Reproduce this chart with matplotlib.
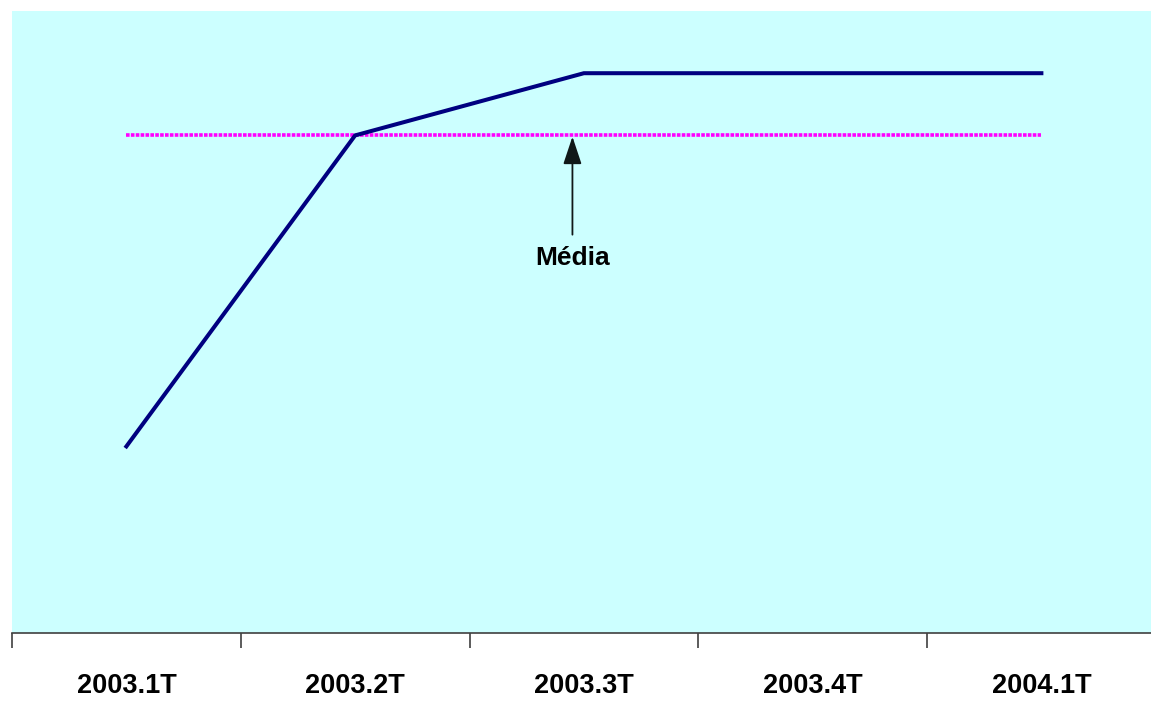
import matplotlib
matplotlib.use("Agg")
import matplotlib.pyplot as plt

quarters = ["2003.1T", "2003.2T", "2003.3T", "2003.4T", "2004.1T"]
values = [30, 80, 90, 90, 90]
media = 80

W, H = 1151, 702
fig = plt.figure(figsize=(W / 100, H / 100), dpi=100)
fig.patch.set_facecolor("white")

# plot area: left 12px, top 11px, bottom 633px; the last category slot runs past the right edge
left, top, bottom = 12, 11, 633
slot = 228.75
ax = fig.add_axes([left / W, 1 - bottom / H, 5 * slot / W, (bottom - top) / H])
ax.set_facecolor("#CCFFFF")

x = list(range(len(quarters)))
ax.plot(x, [media] * len(x), color="#FF00FF", lw=2.6, ls=(0, (1, 0.35)), zorder=2)
ax.plot(x, values, color="#000080", lw=2.9, solid_joinstyle="miter", zorder=3)

ax.set_xlim(-0.5, len(quarters) - 0.5)
ax.set_ylim(0, 100)

for s in ["top", "right", "left"]:
    ax.spines[s].set_visible(False)
ax.spines["bottom"].set_color("#404040")
ax.spines["bottom"].set_linewidth(1.2)
ax.set_yticks([])

font = ["Liberation Sans", "DejaVu Sans"]
ax.set_xticks([i - 0.5 for i in range(len(quarters) + 1)])
ax.set_xticklabels([])
ax.tick_params(axis="x", length=11, width=1.2, color="#404040")
for i, q in enumerate(quarters):
    ax.text(i, -8.6, q, ha="center", va="center", fontsize=19.5,
            fontweight="bold", family=font, clip_on=False)

ax.annotate("Média", xy=(1.95, media - 0.2), xytext=(1.95, 59.2),
            ha="center", va="baseline", fontsize=19, fontweight="bold", family=font,
            arrowprops=dict(arrowstyle="-|>,head_length=0.9,head_width=0.3",
                            color="#101818", lw=1.3, shrinkA=6, shrinkB=0))

fig.savefig("out.png", dpi=100)
